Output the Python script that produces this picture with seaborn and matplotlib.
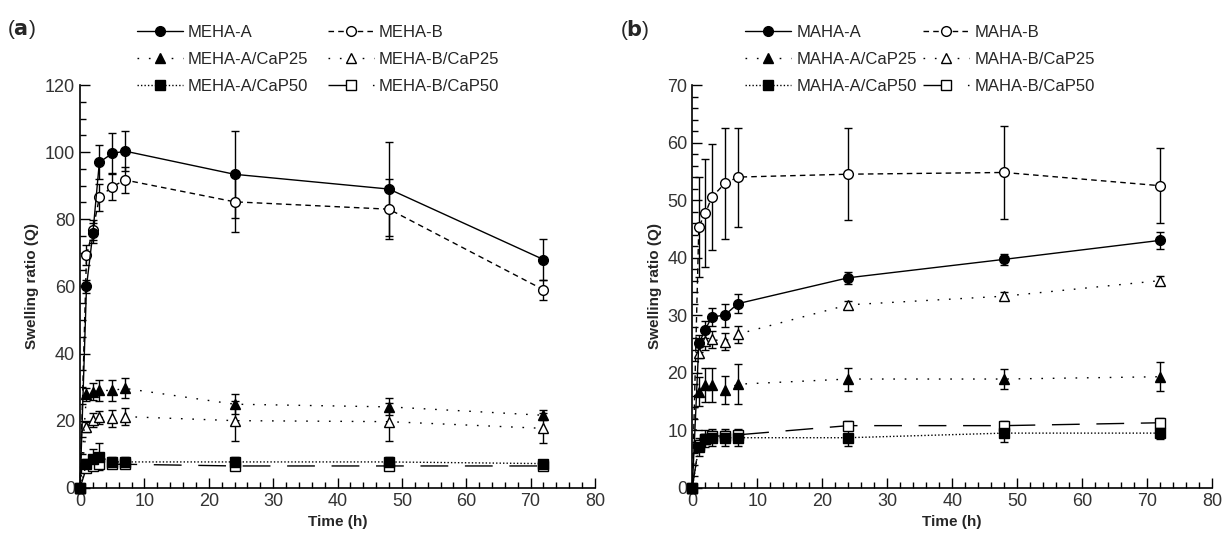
import matplotlib
matplotlib.use("Agg")
import matplotlib.pyplot as plt
import seaborn as sns
from matplotlib.ticker import MultipleLocator

# sampling times (h)
time_h = [0, 1, 2, 3, 5, 7, 24, 48, 72]

# panel (a): MEHA hydrogels
meha_a = [0, 60, 76, 97, 99.6, 100.3, 93.4, 89, 68]
meha_a_err = [0, 2, 3, 5, 6, 6, 13, 14, 6]
meha_b = [0, 69.3, 76.8, 86.5, 89.7, 91.7, 85.2, 83, 59]
meha_b_err = [0, 3, 3, 4, 4, 4, 9, 9, 3]
meha_a_cap25 = [0, 27.8, 28.6, 29, 29, 29.6, 24.9, 24.1, 21.6]
meha_a_cap25_err = [0, 2, 2.5, 3, 3, 3, 3, 2.5, 1.5]
meha_b_cap25 = [0, 18.2, 20.2, 21, 20.7, 21.2, 20, 19.7, 17.7]
meha_b_cap25_err = [0, 1.5, 2, 2, 2.5, 2.5, 6, 5.7, 4.5]
meha_a_cap50 = [0, 7.2, 8.7, 9.2, 7.7, 7.7, 7.7, 7.7, 7.2]
meha_a_cap50_err = [0, 1.5, 3, 4, 1.5, 1.5, 1.5, 1.5, 1]
meha_b_cap50 = [0, 6, 6.5, 7, 7, 7, 6.5, 6.5, 6.5]
meha_b_cap50_err = [0, 1, 1, 1, 1, 1, 1, 1, 1]

# panel (b): MAHA hydrogels
maha_a = [0, 25.1, 27.5, 29.7, 30, 32, 36.5, 39.7, 43]
maha_a_err = [0, 1.5, 1.5, 1.5, 2, 1.7, 1, 1, 1.5]
maha_b = [0, 45.4, 47.7, 50.5, 52.9, 54, 54.5, 54.8, 52.5]
maha_b_err = [0, 8.7, 9.4, 9.2, 9.7, 8.6, 8, 8, 6.5]
maha_a_cap25 = [0, 16.7, 17.9, 17.9, 17, 18, 18.9, 18.9, 19.3]
maha_a_cap25_err = [0, 2.5, 3, 3, 2.5, 3.5, 2, 1.8, 2.5]
maha_b_cap25 = [0, 23.5, 25.5, 25.8, 25.4, 26.7, 31.8, 33.3, 36]
maha_b_cap25_err = [0, 1, 1.5, 1.5, 1.5, 1.5, 0.7, 0.7, 0.8]
maha_a_cap50 = [0, 7.1, 8.5, 8.7, 8.7, 8.7, 8.7, 9.5, 9.5]
maha_a_cap50_err = [0, 1.5, 1.5, 1.5, 1.5, 1.5, 1.5, 1.5, 1]
maha_b_cap50 = [0, 7.5, 8.5, 9, 9, 9.2, 10.8, 10.8, 11.3]
maha_b_cap50_err = [0, 0.8, 0.8, 0.8, 0.8, 0.8, 0.8, 0.8, 0.8]

# line style / marker for each formulation suffix
styles = {
    "A": dict(ls="-", marker="o", mfc="black"),
    "A/CaP25": dict(ls=(0, (1.2, 7)), marker="^", mfc="black"),
    "A/CaP50": dict(ls=(0, (1, 1.5)), marker="s", mfc="black"),
    "B": dict(ls=(0, (4, 3)), marker="o", mfc="white"),
    "B/CaP25": dict(ls=(0, (1.2, 7)), marker="^", mfc="white"),
    "B/CaP50": dict(ls=(0, (20, 12)), marker="s", mfc="white"),
}

panels = [
    ("MEHA", {
        "A": (meha_a, meha_a_err),
        "A/CaP25": (meha_a_cap25, meha_a_cap25_err),
        "A/CaP50": (meha_a_cap50, meha_a_cap50_err),
        "B": (meha_b, meha_b_err),
        "B/CaP25": (meha_b_cap25, meha_b_cap25_err),
        "B/CaP50": (meha_b_cap50, meha_b_cap50_err),
    }, 120, 20, 5),
    ("MAHA", {
        "A": (maha_a, maha_a_err),
        "A/CaP25": (maha_a_cap25, maha_a_cap25_err),
        "A/CaP50": (maha_a_cap50, maha_a_cap50_err),
        "B": (maha_b, maha_b_err),
        "B/CaP25": (maha_b_cap25, maha_b_cap25_err),
        "B/CaP50": (maha_b_cap50, maha_b_cap50_err),
    }, 70, 10, 2),
]

sns.set_style("ticks")
plt.rcParams["font.family"] = ["Liberation Sans", "DejaVu Sans"]

fig = plt.figure(figsize=(12.26, 5.45), dpi=100)
ax_rects = [[0.0653, 0.105, 0.420, 0.739], [0.5647, 0.105, 0.424, 0.739]]
legend_x = [0.111, 0.102]
col_space = [1.15, 0.4]

for i, (name, series, ymax, ymaj, ymin) in enumerate(panels):
    ax = fig.add_axes(ax_rects[i])
    for key, (vals, errs) in series.items():
        st = styles[key]
        z = 4 if st["mfc"] == "black" else 3
        ax.errorbar(time_h, vals, yerr=errs, fmt="none", ecolor="black",
                    elinewidth=1, capsize=3, capthick=1, zorder=2)
        sns.lineplot(x=time_h, y=vals, ax=ax, color="black", lw=1,
                     linestyle=st["ls"], marker=st["marker"], markersize=7,
                     markerfacecolor=st["mfc"], markeredgecolor="black",
                     markeredgewidth=1, label=f"{name}-{key}",
                     clip_on=False, zorder=z)
    ax.set_xlim(0, 80)
    ax.set_ylim(0, ymax)
    ax.xaxis.set_major_locator(MultipleLocator(10))
    ax.xaxis.set_minor_locator(MultipleLocator(2))
    ax.yaxis.set_major_locator(MultipleLocator(ymaj))
    ax.yaxis.set_minor_locator(MultipleLocator(ymin))
    ax.tick_params(which="both", direction="in", color="black", width=1,
                   labelsize=13, labelcolor="#333333")
    ax.tick_params(which="major", length=7)
    ax.tick_params(which="minor", length=4)
    for s in ["top", "right"]:
        ax.spines[s].set_visible(False)
    for s in ["left", "bottom"]:
        ax.spines[s].set_color("black")
        ax.spines[s].set_linewidth(1.2)
    ax.set_xlabel("Time (h)", fontsize=11, fontweight="bold")
    ax.set_ylabel("Swelling ratio (Q)", fontsize=11, fontweight="bold")
    ax.legend(ncol=2, loc="upper left", bbox_to_anchor=(legend_x[i], 1.15),
              frameon=False, fontsize=12,
              handlelength=2.75, handletextpad=0.3,
              columnspacing=col_space[i], labelspacing=0.74,
              borderpad=0, borderaxespad=0)

fig.text(0.006, 0.945, r"($\mathbf{a}$)", fontsize=15, va="center")
fig.text(0.506, 0.945, r"($\mathbf{b}$)", fontsize=15, va="center")

fig.savefig("out.png", dpi=100)
